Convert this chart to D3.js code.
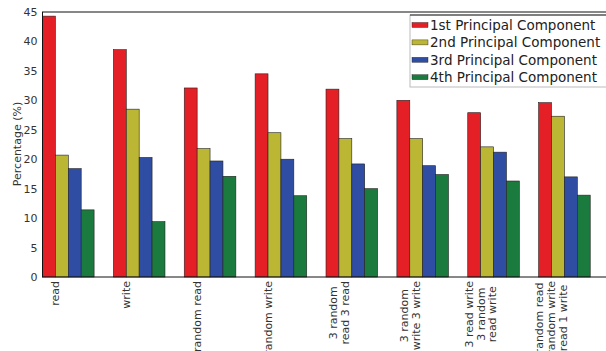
<!DOCTYPE html>
<html>
<head>
<meta charset="utf-8">
<script src="https://cdn.jsdelivr.net/npm/d3@7"></script>
<style>
  html, body { margin: 0; padding: 0; background: #fff; overflow: hidden; }
  svg { display: block; font-family: "DejaVu Sans", sans-serif; }
</style>
</head>
<body>
<svg id="chart" width="606" height="351"></svg>
<script>
const categories = ["read", "write", "random read", "random write",
  "3 random\nread 3 read", "3 random\nwrite 3 write",
  "3 read write\n3 random\nread write", "random read\nrandom write\nread 1 write"];
const seriesNames = ["1st Principal Component", "2nd Principal Component",
  "3rd Principal Component", "4th Principal Component"];
const pc1 = [44.3, 38.6, 32.1, 34.5, 31.9, 30.0, 27.9, 29.6];
const pc2 = [20.7, 28.5, 21.8, 24.5, 23.5, 23.5, 22.1, 27.3];
const pc3 = [18.4, 20.3, 19.7, 20.0, 19.2, 18.9, 21.2, 17.0];
const pc4 = [11.4, 9.4, 17.1, 13.8, 15.0, 17.4, 16.3, 13.9];
const yTicks = [0, 5, 10, 15, 20, 25, 30, 35, 40, 45];
const colors = ["#e41f26", "#bcb635", "#2e4da3", "#1b7a3d"];

const series = [pc1, pc2, pc3, pc4];
const barW = 0.182;

const svg = d3.select("#chart");
const mLeft = 42.5, mRight = 609.5, mTop = 12, mBottom = 277;

const x = d3.scaleLinear().domain([0, categories.length]).range([mLeft, mRight]);
const y = d3.scaleLinear().domain([0, 45]).range([mBottom, mTop]);

// bars
series.forEach((vals, j) => {
  svg.append("g").selectAll("rect").data(vals).join("rect")
    .attr("x", (d, i) => x(i + j * barW))
    .attr("width", x(barW) - x(0))
    .attr("y", d => y(d))
    .attr("height", d => y(0) - y(d))
    .attr("fill", colors[j])
    .attr("stroke", "#222")
    .attr("stroke-width", 0.6);
});

// frame
svg.append("rect")
  .attr("x", mLeft).attr("y", mTop)
  .attr("width", mRight - mLeft).attr("height", mBottom - mTop)
  .attr("fill", "none").attr("stroke", "#111").attr("stroke-width", 1);

// y axis
const yAxis = d3.axisLeft(y).tickValues(yTicks).tickSize(0).tickPadding(5);
const yg = svg.append("g").attr("transform", `translate(${mLeft},0)`).call(yAxis);
yg.select(".domain").remove();
yg.selectAll("text").attr("font-size", 11).attr("fill", "#333")
  .attr("font-family", "DejaVu Sans, sans-serif");

svg.append("text")
  .attr("transform", `translate(17,144) rotate(-90)`)
  .attr("text-anchor", "middle")
  .attr("dy", "0.35em")
  .attr("font-size", 11).attr("fill", "#333")
  .text("Percentage (%)");

// x labels
const labelTop = 281, lineH = 12;
categories.forEach((c, i) => {
  const lines = c.split("\n");
  const tx = x(i + barW);
  const g = svg.append("g").attr("transform", `translate(${tx},0) rotate(-90)`);
  const texts = lines.map((ln, k) => g.append("text")
    .attr("text-anchor", "middle")
    .attr("dy", "0.35em")
    .attr("y", (k - (lines.length - 1) / 2) * lineH)
    .attr("font-size", 11).attr("fill", "#333")
    .text(ln));
  const w = d3.max(texts, t => t.node().getComputedTextLength());
  texts.forEach(t => t.attr("x", -(labelTop + w / 2)));
});

// legend
const lg = svg.append("g");
lg.append("rect").attr("x", 410).attr("y", 15).attr("width", 205).attr("height", 72)
  .attr("fill", "#fff").attr("stroke", "#bbb").attr("stroke-width", 1);
lg.append("line").attr("x1", 410).attr("x2", 615).attr("y1", 15).attr("y2", 15)
  .attr("stroke", "#222").attr("stroke-width", 1.2);
seriesNames.forEach((n, j) => {
  const cy = 25 + j * 17.4;
  lg.append("rect").attr("x", 412).attr("y", cy - 2.5).attr("width", 16).attr("height", 5)
    .attr("fill", colors[j]).attr("stroke", "#222").attr("stroke-width", 0.4);
  lg.append("text").attr("x", 430).attr("y", cy).attr("dy", "0.35em")
    .attr("font-size", 13.5).attr("fill", "#222").text(n);
});
</script>
</body>
</html>
